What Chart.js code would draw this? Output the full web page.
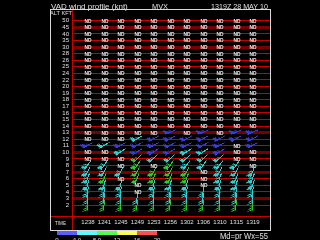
<!DOCTYPE html>
<html>
<head>
<meta charset="utf-8">
<script src="https://cdn.jsdelivr.net/npm/chart.js@4.4.1/dist/chart.umd.min.js"></script>
<style>
    html, body { margin: 0; padding: 0; background: #000; }
    canvas { display: block; }
</style>
</head>
<body>
<canvas id="vwp" width="320" height="240"></canvas>
<script>
// ---------- Data ----------

// altitude rows, bottom to top (kft)
const altLabels = ['2', '3', '4', '5', '6', '7', '8', '9', '10', '11', '12', '13', '14', '15',
    '16', '17', '18', '19', '20', '22', '24', '25', '26', '28', '30', '35', '40', '45', '50'];
const times = ['1238', '1241', '1245', '1249', '1253', '1256', '1302', '1306', '1310', '1315', '1319'];
const thickRows = ['45', '30', '13', '10', '7', '3'];

// wind for 2..13 kft (bottom -> top), one value per scan; null = ND. Nothing above 13 kft.
const windDir = [
    [185, 185, 185, 185, 185, 185, 185, 185, 185, 185, 185],
    [185, 185, 185, 185, 185, 185, 185, 185, 185, 185, 185],
    [190, 190, 190, null, 190, 190, 190, 190, 190, 190, 190],
    [195, 195, 195, null, 195, 195, 195, null, 195, 195, 200],
    [200, 200, null, 200, 200, 200, 200, null, 200, 200, 200],
    [205, 205, 205, 205, 205, 205, 205, null, 205, 205, 200],
    [215, 215, null, 215, null, 215, 215, 215, 215, 215, null],
    [null, null, null, 225, 225, 225, 225, 225, 225, null, null],
    [null, null, 235, 235, 235, 235, 235, 235, 235, null, null],
    [240, 240, 240, 240, 240, 240, 240, 240, 240, null, 240],
    [null, null, null, 240, 240, 240, 240, 240, 240, 240, 240],
    [null, null, null, null, null, 245, null, 245, null, 245, 245]
];
const windSpd = [
    [25, 25, 25, 25, 25, 25, 25, 25, 25, 25, 25],
    [20, 20, 20, 20, 20, 20, 20, 20, 20, 20, 20],
    [25, 25, 25, 25, 25, 25, 25, 25, 25, 25, 25],
    [35, 35, 35, 35, 35, 35, 35, 35, 35, 35, 35],
    [40, 40, 40, 40, 40, 40, 40, 40, 40, 40, 40],
    [40, 40, 40, 40, 40, 40, 40, 40, 40, 40, 40],
    [40, 40, 40, 40, 40, 40, 40, 40, 40, 40, 40],
    [35, 35, 35, 35, 35, 35, 35, 35, 35, 35, 35],
    [35, 35, 35, 35, 35, 35, 35, 35, 35, 35, 35],
    [35, 35, 35, 35, 35, 35, 35, 35, 35, 35, 35],
    [35, 35, 35, 35, 35, 35, 35, 35, 35, 35, 35],
    [35, 35, 35, 35, 35, 35, 35, 35, 35, 35, 35]
];
// rms class: 0 blue, 1 cyan, 2 green
const windRms = [
    [2, 2, 2, 2, 2, 2, 2, 2, 2, 2, 2],
    [1, 1, 1, 1, 1, 1, 1, 1, 1, 1, 1],
    [1, 1, 1, 1, 1, 1, 1, 1, 1, 1, 1],
    [1, 1, 1, 1, 1, 1, 1, 1, 1, 1, 1],
    [1, 2, 1, 2, 2, 2, 2, 1, 1, 1, 1],
    [1, 1, 1, 2, 2, 2, 2, 1, 1, 1, 1],
    [1, 1, 1, 2, 1, 2, 1, 1, 1, 1, 1],
    [1, 1, 1, 2, 1, 1, 1, 1, 1, 1, 1],
    [0, 0, 1, 0, 0, 0, 1, 1, 0, 0, 0],
    [0, 1, 0, 0, 0, 0, 0, 0, 0, 0, 0],
    [0, 0, 0, 1, 0, 0, 0, 0, 0, 0, 0],
    [0, 0, 0, 0, 0, 0, 0, 0, 0, 0, 0]
];

const rmsColors = ['#3c3cd0', '#30d0d0', '#30c830'];
const scaleColors = ['#5c5cff', '#50ffff', '#50ff50', '#ffff50', '#ff5050'];
const scaleLabels = ['0', '4.0', '8.0', '12', '16', '20'];

// ---------- Point images ----------

const barbCache = {};

function barbImage(speed, rms) {
    const key = speed + '_' + rms;
    if (barbCache[key]) return barbCache[key];
    const c = document.createElement('canvas');
    c.width = 24;
    c.height = 24;
    const g = c.getContext('2d');
    g.strokeStyle = rmsColors[rms];
    g.fillStyle = rmsColors[rms];
    g.lineWidth = 1;
    // staff points north (wind from 0 deg), barbs at the far end
    g.beginPath();
    g.moveTo(12.5, 17.5);
    g.lineTo(12.5, 6.5);
    g.stroke();
    let y = 7;
    let s = speed;
    if (s >= 30) {
        // packed feathers drawn as a solid block
        g.beginPath();
        g.moveTo(12, y + 4);
        g.lineTo(12, y);
        g.lineTo(17, y - 1.5);
        g.lineTo(16, y + 1.5);
        g.closePath();
        g.fill();
        y += 5;
        s -= 30;
    }
    g.beginPath();
    while (s >= 10) {
        g.moveTo(12.5, y + 0.5);
        g.lineTo(16.5, y - 1.5);
        y += 2;
        s -= 10;
    }
    if (s >= 5) {
        g.moveTo(12.5, y + 0.5);
        g.lineTo(14.5, y - 0.5);
    }
    g.stroke();
    barbCache[key] = c;
    return c;
}

function ndImage() {
    const c = document.createElement('canvas');
    c.width = 10;
    c.height = 8;
    const g = c.getContext('2d');
    g.fillStyle = '#ececec';
    g.font = 'bold 6px "Liberation Sans"';
    g.textAlign = 'center';
    g.textBaseline = 'middle';
    g.fillText('ND', 5, 4.5, 7);
    return c;
}

// ---------- Points ----------

const barbPoints = [];
const ndPoints = [];
altLabels.forEach((alt, li) => {
    times.forEach((t, ti) => {
        const row = windDir[li];
        const dir = row ? row[ti] : null;
        if (dir === null || dir === undefined) {
            ndPoints.push({ x: ti, y: li + 1 });
        } else {
            barbPoints.push({ x: ti, y: li + 1, dir: dir, spd: windSpd[li][ti], c: windRms[li][ti] });
        }
    });
});

// ---------- Plugins ----------

const pixelPlugin = {
    id: 'pixelPlugin',
    beforeDatasetsDraw(chart) {
        chart.ctx.imageSmoothingEnabled = false;
    }
};

const framePlugin = {
    id: 'framePlugin',
    afterDraw(chart) {
        const ctx = chart.ctx;
        const a = chart.chartArea;
        const frameL = a.left - 22;
        const frameT = a.top - 1;
        const frameB = a.bottom + 14;
        ctx.save();

        // red axis lines carried out to the frame
        ctx.strokeStyle = '#c80000';
        ctx.lineWidth = 1;
        ctx.beginPath();
        ctx.moveTo(frameL, a.bottom + 0.5);
        ctx.lineTo(a.left, a.bottom + 0.5);
        ctx.moveTo(a.left + 0.5, a.bottom);
        ctx.lineTo(a.left + 0.5, frameB);
        ctx.stroke();

        // white frame
        ctx.strokeStyle = '#d8d8d8';
        ctx.strokeRect(frameL + 0.5, frameT + 0.5, a.right - frameL, frameB - frameT);

        // titles
        ctx.fillStyle = '#e0e0e0';
        ctx.textBaseline = 'alphabetic';
        ctx.textAlign = 'left';
        ctx.font = '8px "Liberation Sans"';
        ctx.fillText('VAD wind profile (knt)', frameL + 1, 8.5, 77);
        ctx.fillText('MVX', frameL + 102, 8.5, 16);
        ctx.fillText('1319Z 28 MAY 10', a.right - 59, 8.5, 57);

        ctx.font = '6px "Liberation Sans"';
        ctx.fillText('ALT KFT', frameL, a.top + 5, 22);
        ctx.fillText('TIME', frameL + 5, a.bottom + 8.5, 11);

        // rms colour scale
        const barL = frameL + 7;
        scaleColors.forEach((col, i) => {
            ctx.fillStyle = col;
            ctx.fillRect(barL + i * 20, frameB + 1, 20, 4);
        });
        ctx.fillStyle = '#e0e0e0';
        ctx.textAlign = 'center';
        ctx.textBaseline = 'top';
        ctx.font = '6px "Liberation Sans"';
        scaleLabels.forEach((lab, i) => {
            ctx.fillText(lab, barL + i * 20, frameB + 7);
        });

        ctx.textAlign = 'right';
        ctx.textBaseline = 'alphabetic';
        ctx.font = '9px "Liberation Sans"';
        ctx.fillText('Md=pr Wx=55', a.right - 2, 238.5, 48);
        ctx.restore();
    }
};

// ---------- Chart ----------

new Chart(document.getElementById('vwp'), {
    type: 'scatter',
    data: {
        datasets: [
            {
                label: 'ND',
                data: ndPoints,
                pointStyle: ndImage(),
                pointRadius: 1,
                rotation: 0
            },
            {
                label: 'wind',
                data: barbPoints,
                pointStyle: ctx => ctx.raw ? barbImage(ctx.raw.spd, ctx.raw.c) : 'circle',
                rotation: ctx => ctx.raw ? ctx.raw.dir : 0,
                pointRadius: 1
            }
        ]
    },
    options: {
        responsive: false,
        animation: false,
        events: [],
        layout: { padding: { left: 50, right: 50, top: 10, bottom: 10 } },
        plugins: {
            legend: { display: false },
            tooltip: { enabled: false }
        },
        scales: {
            x: {
                type: 'linear',
                min: -0.97,
                max: 11.03,
                afterFit: scale => { scale.height = 14; },
                afterBuildTicks: scale => { scale.ticks = times.map((t, i) => ({ value: i })); },
                grid: { display: false, drawTicks: false },
                border: { display: true, color: '#c80000' },
                ticks: {
                    autoSkip: false,
                    maxRotation: 0,
                    padding: 3,
                    color: '#e0e0e0',
                    font: { family: '"Liberation Sans Narrow", "Liberation Sans"', size: 6 },
                    callback: value => times[value]
                }
            },
            y: {
                type: 'linear',
                min: -0.67,
                max: 30.63,
                afterFit: scale => { scale.width = 22; },
                afterBuildTicks: scale => { scale.ticks = altLabels.map((l, i) => ({ value: i + 1 })); },
                grid: {
                    drawTicks: false,
                    color: ctx => thickRows.includes(altLabels[ctx.index]) ? '#780000' : '#c80000',
                    lineWidth: ctx => thickRows.includes(altLabels[ctx.index]) ? 3 : 1
                },
                border: { display: true, color: '#c80000' },
                ticks: {
                    autoSkip: false,
                    padding: 3,
                    color: '#e0e0e0',
                    font: { family: '"Liberation Sans"', size: 6 },
                    callback: value => altLabels[value - 1]
                }
            }
        }
    },
    plugins: [pixelPlugin, framePlugin]
});
</script>
</body>
</html>
